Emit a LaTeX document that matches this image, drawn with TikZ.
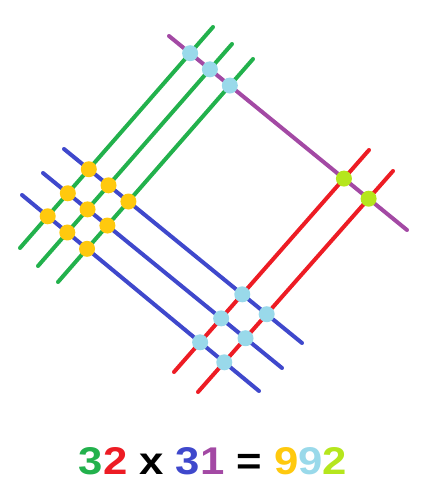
\documentclass[tikz,border=0pt]{standalone}
\usepackage{xcolor}
\usepackage{fontspec}
\setmainfont{Liberation Sans}
\newfontfamily\sumfont[FakeStretch=1.13]{Liberation Sans}
\usepackage{tikz}
\usetikzlibrary{positioning}

\definecolor{pgreen}{HTML}{22B14C}
\definecolor{pred}{HTML}{ED1C24}
\definecolor{pblue}{HTML}{3F48CC}
\definecolor{ppurple}{HTML}{A349A4}
\definecolor{pyellow}{HTML}{FFC90E}
\definecolor{plight}{HTML}{99D9EA}
\definecolor{plime}{HTML}{B5E61D}

\tikzset{
    stick/.style={line width=3pt, line cap=round},
    dot/.style={circle, inner sep=0pt, minimum size=12pt}
}

\begin{document}
\begin{tikzpicture}[x=0.75pt, y=-0.75pt]
    \useasboundingbox (0,0) rectangle (442,493);

    % line ends
    \coordinate (g1a) at (20,248);  \coordinate (g1b) at (213,27);
    \coordinate (g2a) at (38,266);  \coordinate (g2b) at (232,44);
    \coordinate (g3a) at (58,282);  \coordinate (g3b) at (253,59);
    \coordinate (b1a) at (64,149);  \coordinate (b1b) at (302,343);
    \coordinate (b2a) at (43,173);  \coordinate (b2b) at (282,368);
    \coordinate (b3a) at (22,195);  \coordinate (b3b) at (259,391);
    \coordinate (pa) at (169,36);   \coordinate (pb) at (407,230);
    \coordinate (r1a) at (174,372); \coordinate (r1b) at (369,150);
    \coordinate (r2a) at (198,392); \coordinate (r2b) at (393,171);

    \draw [stick, pgreen] (g1a) -- (g1b);
    \draw [stick, pgreen] (g2a) -- (g2b);
    \draw [stick, pgreen] (g3a) -- (g3b);
    \draw [stick, pblue] (b1a) -- (b1b);
    \draw [stick, pblue] (b2a) -- (b2b);
    \draw [stick, pblue] (b3a) -- (b3b);
    \draw [stick, ppurple] (pa) -- (pb);
    \draw [stick, pred] (r1a) -- (r1b);
    \draw [stick, pred] (r2a) -- (r2b);

    % hundreds
    \foreach \g in {1,2,3}
        \foreach \b in {1,2,3}
            \node [dot, fill=pyellow] (y\g\b) at (intersection of g\g a--g\g b and b\b a--b\b b) {};
    % tens
    \foreach \g in {1,2,3}
        \node [dot, fill=plight] (lg\g) at (intersection of g\g a--g\g b and pa--pb) {};
    \foreach \r in {1,2}
        \foreach \b in {1,2,3}
            \node [dot, fill=plight] (lr\r\b) at (intersection of r\r a--r\r b and b\b a--b\b b) {};
    % units
    \foreach \r in {1,2}
        \node [dot, fill=plime] (u\r) at (intersection of r\r a--r\r b and pa--pb) {};

    \node (sum) at (213,461) {\sumfont\fontsize{29}{34}\selectfont\bfseries
        \textcolor{pgreen}{3}\textcolor{pred}{2} x \textcolor{pblue}{3}\textcolor{ppurple}{1} = \textcolor{pyellow}{9}\textcolor{plight}{9}\textcolor{plime}{2}};
\end{tikzpicture}
\end{document}
